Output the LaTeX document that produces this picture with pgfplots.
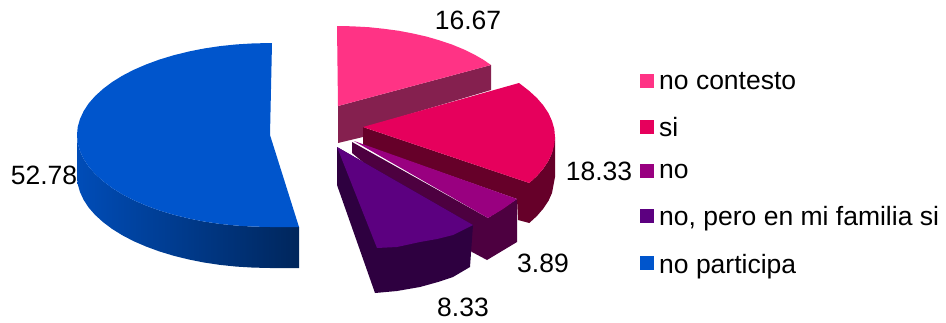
\documentclass[border=0pt]{standalone}
\usepackage{fontspec}
\setmainfont{Liberation Sans}
\usepackage{pgfplots}
\pgfplotsset{compat=1.18}
\definecolor{cA}{HTML}{FF3385}
\definecolor{cB}{HTML}{E6005C}
\definecolor{cC}{HTML}{990080}
\definecolor{cD}{HTML}{5C0080}
\definecolor{cE}{HTML}{0055CC}
\definecolor{sA}{HTML}{85204F}
\definecolor{sB}{HTML}{660029}
\definecolor{sC}{HTML}{4D0040}
\definecolor{sD}{HTML}{2E0040}
\begin{document}
\begin{tikzpicture}
\useasboundingbox (0,0) rectangle (946pt,322pt);
\begin{axis}[
  scale only axis, width=946pt, height=322pt,
  xmin=0, xmax=946, ymin=0, ymax=322, y dir=reverse,
  hide axis, clip=false, no markers,
  font=\fontsize{26.5}{30}\selectfont,
  legend cell align=left,
  legend image code/.code={\path[#1,draw=none] (0pt,-7pt) rectangle (14pt,7pt); \path (19pt,0pt);},
  legend style={at={(axis cs:640,72)}, anchor=north west, draw=none, fill=none,
    inner sep=0pt, outer sep=0pt, row sep=28pt, font=\fontsize{26.5}{30}\selectfont,
    nodes={inner sep=0pt, text depth=0pt}},
]
% blue slice: side, then top
\addplot[draw=none, forget plot, left color=cE!90!black, middle color=cE!80!black, right color=cE!45!black] coordinates {
(77,135)(77.7,143)(80,151)(83.6,158.8)(88.6,166.5)(95.1,173.9)(102.9,181)(111.9,187.8)(122.2,194.2)(133.5,200.1)(146,205.5)(159.3,210.4)(173.5,214.7)(188.4,218.4)(204,221.5)(220,223.9)(236.5,225.6)(253.2,226.6)(270,227)(299,227)
(299,268)(270,268)(253.2,267.6)(236.5,266.6)(220,264.9)(204,262.5)(188.4,259.4)(173.5,255.7)(159.3,251.4)(146,246.5)(133.5,241.1)(122.2,235.2)(111.9,228.8)(102.9,222)(95.1,214.9)(88.6,207.5)(83.6,199.8)(80,192)(77.7,184)(77,176)} --cycle;
\addplot[draw=none, fill=cE, forget plot] coordinates {
(272,43)(253.2,43.4)(236.5,44.4)(220,46.1)(204,48.5)(188.4,51.6)(173.5,55.3)(159.3,59.6)(146,64.5)(133.5,69.9)(122.2,75.8)(111.9,82.2)(102.9,89)(95.1,96.1)(88.6,103.5)(83.6,111.2)(80,119)(77.7,127)(77,135)(77.7,143)(80,151)(83.6,158.8)(88.6,166.5)(95.1,173.9)(102.9,181)(111.9,187.8)(122.2,194.2)(133.5,200.1)(146,205.5)(159.3,210.4)(173.5,214.7)(188.4,218.4)(204,221.5)(220,223.9)(236.5,225.6)(253.2,226.6)(270,227)(299,227)(270,135)} --cycle;
% pink slice
\addplot[draw=none, fill=sA, forget plot] coordinates {(338,106)(491,65)(491,90)(363,128)(363,137)(338,143)} --cycle;
\addplot[draw=none, fill=cA, forget plot] coordinates {(337,26)(352,26.3)(368.9,27.2)(384,28.8)(398.9,30.8)(413,33.5)(427,36.7)(440,40.5)(452.4,44.7)(464,49.5)(474.4,54.6)(483,59.5)(491,65)(338,106)} --cycle;
% red slice
\addplot[draw=none, fill=sB, forget plot] coordinates {(363,127)(529.3,183)(537,175.9)(543.4,168.5)(548.5,160.8)(552,153)(555,137)(555,177)(552,193)(548.5,200.8)(543.4,208.5)(537,215.9)(529.3,223)(518,220)(517,199)(363,145)} --cycle;
\addplot[draw=none, fill=cB, forget plot] coordinates {(363,127)(519,83)(529.3,91)(537,98.1)(543.4,105.5)(548.5,113.2)(552,121)(554.3,129)(555,137)(554.3,145)(552,153)(548.5,160.8)(543.4,168.5)(537,175.9)(529.3,183)} --cycle;
% purple slice
\addplot[draw=none, fill=sC, forget plot] coordinates {(352,142)(488,218)(517,199)(517,242)(487,260)(472,252)(352,153)} --cycle;
\addplot[draw=none, fill=cC, forget plot] coordinates {(354,141)(517,199)(503,209)(488,218)} --cycle;
% violet slice
\addplot[draw=none, fill=sD, forget plot] coordinates {(337,147)(337,185)(375,293)(397,291)(420,287)(438,282)(453,277)(470,267)(473,225)} --cycle;
\addplot[draw=none, fill=cD, forget plot] coordinates {(337,147)(473,225)(453,235)(437,239)(420,242)(397,247)(377,248)} --cycle;
% value labels
\node at (axis cs:468,20) {16.67};
\node at (axis cs:599,171) {18.33};
\node at (axis cs:543,263) {3.89};
\node at (axis cs:463,307) {8.33};
\node at (axis cs:44,175) {52.78};
% legend
\addlegendimage{fill=cA}\addlegendentry{no contesto}
\addlegendimage{fill=cB}\addlegendentry{si}
\addlegendimage{fill=cC}\addlegendentry{no}
\addlegendimage{fill=cD}\addlegendentry{no, pero en mi familia si}
\addlegendimage{fill=cE}\addlegendentry{no participa}
\end{axis}
\end{tikzpicture}
\end{document}
